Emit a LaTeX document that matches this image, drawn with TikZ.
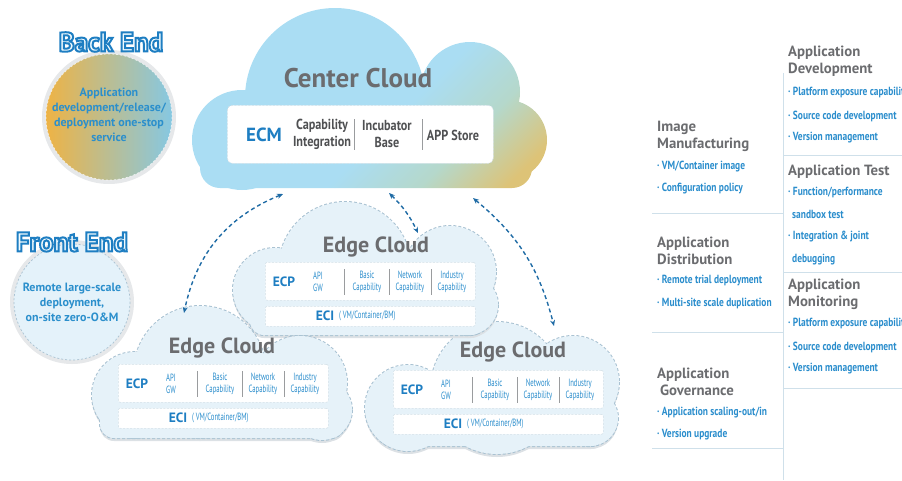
\documentclass[tikz,border=0pt]{standalone}
\usepackage{fontspec}
\setmainfont{PT Sans}
\newfontfamily\condfont[FakeStretch=0.8]{PT Sans}
\newfontfamily\ecmfont[FakeStretch=0.84]{PT Sans}
\newfontfamily\narrowfont[FakeStretch=0.64]{PT Sans}
\usetikzlibrary{arrows.meta}

\definecolor{inkblue}{HTML}{1E7EC2}
\definecolor{itemblue}{HTML}{2A8DCC}
\definecolor{headgray}{HTML}{6B6C6F}
\definecolor{darkgray}{HTML}{4F5052}
\definecolor{skyblue}{HTML}{AADDF3}
\definecolor{sagegreen}{HTML}{B5D8CB}
\definecolor{sand}{HTML}{DDC377}
\definecolor{edgefill}{HTML}{E6F2F9}
\definecolor{edgeline}{HTML}{A9C2D2}
\definecolor{shadowgray}{HTML}{DCE1E5}
\definecolor{arrowblue}{HTML}{1F6BA5}
\definecolor{rulecolor}{HTML}{CFE0EA}
\definecolor{warmorange}{HTML}{EEB345}
\definecolor{midtan}{HTML}{C7C89C}
\definecolor{coolblue}{HTML}{86C8E2}
\definecolor{frontfill}{HTML}{E4F2FA}
\definecolor{ringgray}{HTML}{E6E8EA}
\definecolor{panelline}{HTML}{D3E0E8}
\definecolor{sepgray}{HTML}{9A9C9E}
\definecolor{labelfill}{HTML}{F0FAFE}
\definecolor{circletext}{HTML}{2B8FCC}

\pgfdeclarehorizontalshading{centercloud}{100bp}{color(0bp)=(skyblue); color(56bp)=(skyblue); color(68bp)=(sagegreen); color(79bp)=(sand); color(100bp)=(sand)}

\tikzset{
  rphead/.style={anchor=west, align=left, text=headgray, font=\fontsize{14.8}{17}\selectfont\bfseries, inner sep=0pt},
  rpitem/.style={anchor=west, text=itemblue, font=\condfont\fontsize{11.8}{13}\selectfont\bfseries, inner sep=0pt},
  divider/.style={draw=rulecolor, line width=0.8pt},
  whitepanel/.style={fill=white, draw=panelline, line width=0.6pt, dash pattern=on 2pt off 1.5pt, rounded corners=2pt, inner sep=0pt},
  cloudedge/.style={draw=edgeline, line width=2pt, dash pattern=on 3pt off 2pt},
  cloudshadow/.style={fill=shadowgray},
  cloudfill/.style={fill=edgefill},
  cloudtitle/.style={text=headgray, font=\fontsize{22}{24}\selectfont\bfseries, inner sep=0pt},
  acronym/.style={text=inkblue, font=\fontsize{13.5}{15}\selectfont\bfseries, inner sep=0pt},
  captext/.style={text=itemblue, align=center, font=\narrowfont\fontsize{10.5}{11.5}\selectfont, inner sep=0pt},
  capsep/.style={draw=sepgray, line width=0.6pt},
  ecmtext/.style={text=darkgray, align=center, font=\ecmfont\fontsize{14.5}{17}\selectfont\bfseries, inner sep=0pt},
  link/.style={draw=arrowblue, line width=1.4pt, dash pattern=on 4pt off 3pt,
    {Stealth[length=6pt,width=5pt]}-{Stealth[length=6pt,width=5pt]}},
  outlabel/.style={font=\fontsize{27}{29}\selectfont\bfseries, inner sep=0pt, text=labelfill},
  circletxt/.style={text=circletext, align=center, font=\fontsize{12}{15}\selectfont\bfseries, inner sep=0pt},
}

% glyphs filled and stroked: pale fill, blue outline
\newcommand\strokedtext[1]{\special{pdf:literal direct 2 Tr 2 w 0.118 0.494 0.761 RG}#1\special{pdf:literal direct 0 Tr}}

% edge cloud body: lobes (x/y/r list) plus a rounded base rectangle
\newcommand\cloudbody[3]{%
  \begin{scope}[yshift=-3pt]
    \foreach \cx/\cy/\r in {#1} {\fill[cloudshadow] (\cx,\cy) circle[radius=\r];}
    \fill[cloudshadow, rounded corners=14pt] (#2) rectangle (#3);
  \end{scope}
  \foreach \cx/\cy/\r in {#1} {\draw[cloudedge] (\cx,\cy) circle[radius=\r];}
  \draw[cloudedge, rounded corners=14pt] (#2) rectangle (#3);
  \foreach \cx/\cy/\r in {#1} {\fill[cloudfill] (\cx,\cy) circle[radius=\r];}
  \fill[cloudfill, rounded corners=14pt] (#2) rectangle (#3);
}

% ECP / ECI panels of an edge cloud, top-left corner at (#2,#3)
\newcommand\edgepanel[3]{%
  \node[whitepanel, minimum width=210pt, minimum height=38pt, anchor=north west] (#1-ecp) at (#2,#3) {};
  \node[acronym] (#1-ecp-t) at ({#2+19},{#3+20}) {ECP};
  \node[captext] (#1-api) at ({#2+53},{#3+20}) {API\\GW};
  \draw[capsep] ({#2+79},{#3+7}) -- ({#2+79},{#3+33});
  \node[captext] (#1-basic) at ({#2+102},{#3+20}) {Basic\\Capability};
  \draw[capsep] ({#2+124},{#3+7}) -- ({#2+124},{#3+33});
  \node[captext] (#1-net) at ({#2+145},{#3+20}) {Network\\Capability};
  \draw[capsep] ({#2+166},{#3+7}) -- ({#2+166},{#3+33});
  \node[captext] (#1-ind) at ({#2+187},{#3+20}) {Industry\\Capability};
  \node[whitepanel, minimum width=210pt, minimum height=20pt, anchor=north west] (#1-eci) at (#2,{#3+44}) {};
  \node[acronym] (#1-eci-t) at ({#2+60},{#3+54}) {ECI};
  \node[captext, anchor=west] (#1-eci-s) at ({#2+74},{#3+54}) {(\,VM/Container/BM)};
}

\begin{document}
\begin{tikzpicture}[x=1pt,y=-1pt]
\useasboundingbox (0,0) rectangle (902,480);
\clip (0,0) rectangle (902,480);

% ---------- Back End ----------
\fill[ringgray] (109,117) circle[radius=67];
\shade[left color=warmorange, middle color=midtan, right color=coolblue] (109,117) circle[radius=63];
\draw[white, line width=0.7pt, dash pattern=on 2pt off 2pt, opacity=0.7] (109,117) circle[radius=63];
\node[circletxt] (be-text) at (109,115) {Application\\development/release/\\deployment one-stop\\service};
\node[outlabel] (be-label) at (111,42) {\strokedtext{Back End}};

% ---------- Front End ----------
\fill[ringgray] (72,302) circle[radius=62];
\fill[frontfill] (72,302) circle[radius=58];
\draw[edgeline, line width=0.7pt, dash pattern=on 2pt off 2pt] (72,302) circle[radius=58];
\node[circletxt] (fe-text) at (72,302) {Remote large-scale\\deployment,\\on-site zero-O\&M};
\node[outlabel] (fe-label) at (72,242) {\strokedtext{Front End}};

% ---------- Center Cloud ----------
\foreach \cx/\cy/\r in {335/98/90, 242/140/50, 470/92/50, 507/140/40} {
  \begin{scope}
    \clip (\cx,\cy) circle[radius=\r];
    \shade[shading=centercloud, shading angle=-45] (185,5) rectangle (552,192);
  \end{scope}
}
\begin{scope}
  \clip[rounded corners=20pt] (200,112) rectangle (532,188);
  \shade[shading=centercloud, shading angle=-45] (185,5) rectangle (552,192);
\end{scope}
\node[text=headgray, font=\fontsize{27}{29}\selectfont\bfseries, inner sep=0pt] (cc-title) at (358,78) {Center Cloud};
\node[whitepanel, rounded corners=5pt, minimum width=266pt, minimum height=58pt, anchor=north west] (ecm-panel) at (227,105) {};
\node[text=inkblue, font=\fontsize{19}{21}\selectfont\bfseries, inner sep=0pt] (ecm) at (264,135) {ECM};
\node[ecmtext] (ecm-cap) at (322,134) {Capability\\Integration};
\draw[capsep] (354,119) -- (354,150);
\node[ecmtext] (ecm-inc) at (387,134) {Incubator\\Base};
\draw[capsep] (422,119) -- (422,150);
\node[ecmtext] (ecm-app) at (453,135) {APP Store};

% ---------- Edge clouds ----------
\cloudbody{497/388/66, 408/408/43, 573/382/46, 590/418/28}{378,410}{605,446}
\node[cloudtitle] (ec3-title) at (513,352) {Edge Cloud};
\edgepanel{ec3}{393}{370}

\cloudbody{345/268/66, 275/290/42, 450/272/46, 468/305/30}{250,290}{485,335}
\node[cloudtitle] (ec1-title) at (376,247) {Edge Cloud};
\edgepanel{ec1}{265}{262}

\cloudbody{200/372/66, 135/395/43, 300/383/47, 322/410/30}{100,395}{345,438}
\node[cloudtitle] (ec2-title) at (222,348) {Edge Cloud};
\edgepanel{ec2}{118}{364}

% ---------- links between center and edge clouds ----------
\coordinate (cc-sw) at (283,194);
\coordinate (cc-s) at (389,193);
\coordinate (cc-se) at (473,198);
\coordinate (ec2-top) at (184,313);
\coordinate (ec1-top) at (418,233);
\coordinate (ec3-top) at (554,326);
\draw[link] (cc-sw) to[bend right=28] (ec2-top);
\draw[link] (cc-s) to[bend left=10] (ec1-top);
\draw[link] (cc-se) to[bend left=18] (ec3-top);

% ---------- right-hand lifecycle panel ----------
\draw[divider] (783,73) -- (783,480);
\draw[divider] (652,213) -- (783,213);
\draw[divider] (652,332) -- (783,332);
\draw[divider] (652,448) -- (783,448);
\draw[divider] (783,155) -- (902,155);
\draw[divider] (783,272) -- (902,272);
\draw[divider] (783,388) -- (902,388);

\node[rphead] (im-h) at (657,136.5) {Image\\Manufacturing};
\node[rpitem] (im-1) at (657,167) {· VM/Container image};
\node[rpitem] (im-2) at (657,189) {· Configuration policy};

\node[rphead] (ad-h) at (657,250.5) {Application\\Distribution};
\node[rpitem] (ad-1) at (657,281) {· Remote trial deployment};
\node[rpitem] (ad-2) at (657,303) {· Multi-site scale duplication};

\node[rphead] (ag-h) at (657,381.5) {Application\\\hspace{3pt}Governance};
\node[rpitem] (ag-1) at (657,413) {· Application scaling-out/in};
\node[rpitem] (ag-2) at (657,435) {· Version upgrade};

\node[rphead] (dev-h) at (788,61.5) {Application\\Development};
\node[rpitem] (dev-1) at (788,93) {· Platform exposure capability};
\node[rpitem] (dev-2) at (788,116) {· Source code development};
\node[rpitem] (dev-3) at (788,138) {· Version management};

\node[rphead] (test-h) at (788,172) {Application Test};
\node[rpitem] (test-1) at (788,192) {· Function/performance};
\node[rpitem] (test-2) at (792,214) {sandbox test};
\node[rpitem] (test-3) at (788,237) {· Integration \& joint};
\node[rpitem] (test-4) at (792,260) {debugging};

\node[rphead] (mon-h) at (788,294.5) {Application\\Monitoring};
\node[rpitem] (mon-1) at (788,324) {· Platform exposure capability};
\node[rpitem] (mon-2) at (788,347) {· Source code development};
\node[rpitem] (mon-3) at (788,369) {· Version management};
\end{tikzpicture}
\end{document}
